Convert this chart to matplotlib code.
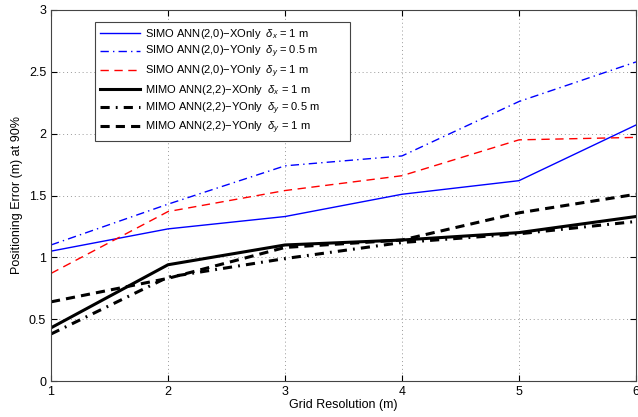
import matplotlib
matplotlib.use("Agg")
import matplotlib.pyplot as plt

plt.rcParams['font.family'] = ['Liberation Sans', 'DejaVu Sans']
plt.rcParams['mathtext.fontset'] = 'custom'
plt.rcParams['mathtext.rm'] = 'Liberation Sans'
plt.rcParams['mathtext.it'] = 'Liberation Sans:italic'

# grid resolution (m)
grid_res = [1, 2, 3, 4, 5, 6]

# positioning error (m) at 90%
simo_x_1 = [1.05, 1.23, 1.33, 1.51, 1.62, 2.07]
simo_y_05 = [1.10, 1.43, 1.74, 1.82, 2.26, 2.58]
simo_y_1 = [0.87, 1.37, 1.54, 1.66, 1.95, 1.97]
mimo_x_1 = [0.43, 0.94, 1.10, 1.14, 1.20, 1.33]
mimo_y_05 = [0.38, 0.84, 0.99, 1.12, 1.19, 1.29]
mimo_y_1 = [0.64, 0.83, 1.08, 1.14, 1.36, 1.51]

labels = [
    r'SIMO ANN(2,0)$-$XOnly  $\delta_x$ = 1 m',
    r'SIMO ANN(2,0)$-$YOnly  $\delta_y$ = 0.5 m',
    r'SIMO ANN(2,0)$-$YOnly  $\delta_y$ = 1 m',
    r'MIMO ANN(2,2)$-$XOnly  $\delta_x$ = 1 m',
    r'MIMO ANN(2,2)$-$YOnly  $\delta_y$ = 0.5 m',
    r'MIMO ANN(2,2)$-$YOnly  $\delta_y$ = 1 m',
]

fig = plt.figure(figsize=(6.38, 4.17), dpi=100)
ax = fig.add_axes([51 / 638, 36 / 417, 585 / 638, 371 / 417])

ax.plot(grid_res, simo_x_1, color='#0000ff', ls='-', lw=1.0, label=labels[0])
ax.plot(grid_res, simo_y_05, color='#0000ff', ls=(0, (6, 3, 1, 3)), lw=1.0, label=labels[1])
ax.plot(grid_res, simo_y_1, color='#ff0000', ls=(0, (6, 4)), lw=1.0, label=labels[2])
ax.plot(grid_res, mimo_x_1, color='black', ls='-', lw=2.2, label=labels[3])
ax.plot(grid_res, mimo_y_05, color='black', ls=(0, (3, 2, 0.6, 2)), lw=2.2, label=labels[4])
ax.plot(grid_res, mimo_y_1, color='black', ls=(0, (3, 2)), lw=2.2, label=labels[5])

ax.set_xlim(1, 6)
ax.set_ylim(0, 3)
ax.set_xticks(grid_res)
ax.set_yticks([0, 0.5, 1, 1.5, 2, 2.5, 3])
ax.set_yticklabels(['0', '0.5', '1', '1.5', '2', '2.5', '3'])
ax.tick_params(direction='in', top=True, right=True, labelsize=9, length=4)
ax.grid(True, ls=(0, (1, 3)), color='#999999', lw=0.7)
for s in ax.spines.values():
    s.set_color('#444444')
    s.set_linewidth(0.8)

ax.set_xlabel('Grid Resolution (m)', fontsize=9, labelpad=1)
ax.set_ylabel('Positioning Error (m) at 90%', fontsize=9, labelpad=4)

# legend box stretched to the width it has in the reference
leg = ax.legend(loc='upper left', bbox_to_anchor=(0.075, 0.5, 0.436, 0.468),
                mode='expand', borderaxespad=0, fontsize=8,
                handlelength=3.6, handletextpad=0.5, labelspacing=0.28,
                borderpad=0.45, fancybox=False, framealpha=1, edgecolor='#444444')
leg.get_frame().set_linewidth(0.8)

fig.savefig('out.png', dpi=100)
